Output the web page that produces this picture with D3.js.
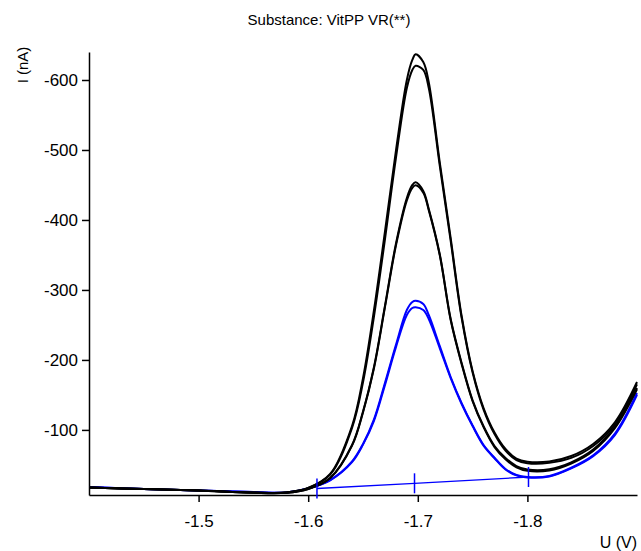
<!DOCTYPE html>
<meta charset="utf-8">
<script src="https://cdn.jsdelivr.net/npm/d3@7"></script>
<style>
body { margin: 0; background: #fff; }
text { font-family: "Liberation Sans", Arial, sans-serif; fill: #000; }
.axis path, .axis line { stroke: #000; stroke-width: 1.5; }
</style>
<body>
<script>

// potential (V) shared by all scans
var potential = [-1.40, -1.45, -1.50, -1.55, -1.58, -1.60, -1.62, -1.64, -1.65, -1.66,
    -1.67, -1.68, -1.69, -1.695, -1.698, -1.705, -1.71, -1.72, -1.73, -1.74,
    -1.75, -1.76, -1.77, -1.78, -1.79, -1.80, -1.82, -1.84, -1.86, -1.88, -1.90];

// current (nA), black scans
var scanA = [-17.7, -15.6, -13.4, -10.6, -10.6, -17, -37, -105.6, -174, -271,
    -383, -498.5, -600, -628.6, -636.7, -625.7, -597, -482.8, -374, -262.8,
    -184, -131.3, -96.3, -72.7, -59, -54.6, -54.9, -62.7, -79.9, -111.3, -168.5];
var scanB = [-17.7, -15.6, -13.4, -10.6, -10.6, -17, -36, -103, -168, -262,
    -372, -488, -588.6, -614.3, -620.4, -614.3, -588.6, -478, -370, -260,
    -182, -129, -94, -70.5, -57, -52.5, -53, -60, -77, -108, -165];
var scanC = [-17.7, -15.6, -13.4, -10.1, -10.1, -15.6, -31.3, -78.4, -126.3, -189.9,
    -277, -365.7, -431.4, -450, -453.8, -441.4, -415.7, -351.4, -258.5, -195.6,
    -142.3, -105.2, -77, -59.9, -48.4, -43.4, -43.7, -53.6, -71.9, -104.6, -159.9];
var scanD = [-17.7, -15.6, -13.4, -10.1, -10.1, -15.6, -31, -77.5, -125, -188,
    -275, -363, -428, -446, -449.5, -439, -414, -350, -257, -194,
    -141, -104, -75.5, -58, -46.5, -41.5, -42, -52, -70, -103, -158];

// current (nA), blue scans
var scanE = [-18.4, -15.6, -13.4, -11.3, -10.6, -16.3, -28.4, -55, -80, -115,
    -167, -221.3, -271.3, -282.8, -284.6, -279.9, -264.2, -220, -175.6, -138.2,
    -106.3, -78.4, -60.2, -44.2, -35.6, -32.7, -34.1, -45.9, -63.6, -95, -152.7];
var scanF = [-18.4, -15.6, -13.4, -11.3, -10.6, -16.3, -28, -54, -79, -113,
    -164, -218, -264.2, -274.2, -275.2, -271.3, -258.5, -217, -174, -137,
    -105.5, -77.5, -59.5, -43.5, -35, -32, -33.5, -45, -62.5, -93, -150];

// peak baseline (blue) and its markers
var basePotential = [-1.608, -1.697, -1.801];
var baseCurrent = [-16.3, -23.7, -32.7];

var xTicks = [-1.5, -1.6, -1.7, -1.8];
var yTicks = [-600, -500, -400, -300, -200, -100];

var blackScans = [scanA, scanB, scanC, scanD];
var blueScans = [scanE, scanF];

var width = 641, height = 551;
var svg = d3.select("body").append("svg")
    .attr("width", width)
    .attr("height", height);

var x = d3.scaleLinear().domain([-1.4, -1.9]).range([89, 637]);
var y = d3.scaleLinear().domain([-7, -640]).range([495, 52]);

// axes
svg.append("g")
    .attr("class", "axis")
    .attr("transform", "translate(0," + y(-7) + ")")
    .call(d3.axisBottom(x).tickValues(xTicks).tickSize(7).tickSizeOuter(0)
        .tickFormat(function(d) { return String(d); }))
    .call(function(g) {
        g.selectAll("text").attr("font-size", 17).attr("dy", "1.3em");
    });

svg.append("g")
    .attr("class", "axis")
    .attr("transform", "translate(" + x(-1.4) + ",0)")
    .call(d3.axisLeft(y).tickValues(yTicks).tickSize(7).tickSizeOuter(0)
        .tickFormat(function(d) { return String(d); }))
    .call(function(g) {
        g.selectAll("text").attr("font-size", 17).attr("x", -11);
    });

// labels
svg.append("text")
    .attr("x", 329).attr("y", 25)
    .attr("text-anchor", "middle")
    .attr("font-size", 15)
    .text("Substance: VitPP VR(**)");

svg.append("text")
    .attr("transform", "translate(28,65) rotate(-90)")
    .attr("text-anchor", "middle")
    .attr("font-size", 15)
    .text("I (nA)");

svg.append("text")
    .attr("x", 637).attr("y", 548)
    .attr("text-anchor", "end")
    .attr("font-size", 16)
    .text("U (V)");

// scans
var line = d3.line()
    .x(function(d, i) { return x(potential[i]); })
    .y(function(d) { return y(d); })
    .curve(d3.curveCatmullRom);

svg.append("g").selectAll("path")
    .data(blueScans).enter().append("path")
    .attr("d", line)
    .attr("fill", "none")
    .attr("stroke", "#0000ff")
    .attr("stroke-width", 2);

svg.append("g").selectAll("path")
    .data(blackScans).enter().append("path")
    .attr("d", line)
    .attr("fill", "none")
    .attr("stroke", "#000")
    .attr("stroke-width", 2);

// baseline
var baseLine = d3.line()
    .x(function(d, i) { return x(basePotential[i]); })
    .y(function(d) { return y(d); });

svg.append("path")
    .attr("d", baseLine(baseCurrent))
    .attr("fill", "none")
    .attr("stroke", "#0000ff")
    .attr("stroke-width", 1.3);

svg.append("g").selectAll("line")
    .data(baseCurrent).enter().append("line")
    .attr("x1", function(d, i) { return x(basePotential[i]); })
    .attr("x2", function(d, i) { return x(basePotential[i]); })
    .attr("y1", function(d) { return y(d) - 10; })
    .attr("y2", function(d) { return y(d) + 10; })
    .attr("stroke", "#0000ff")
    .attr("stroke-width", 1.5);

</script>
</body>
